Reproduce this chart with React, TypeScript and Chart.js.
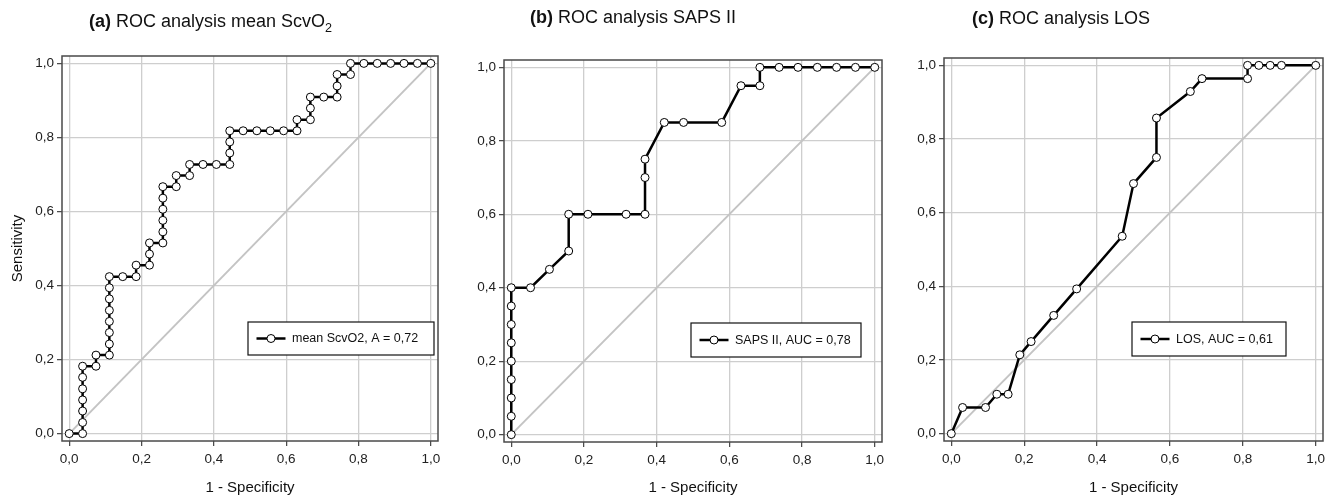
import React, { useEffect, useRef } from 'react';
import { Chart, registerables } from 'chart.js';

Chart.register(...registerables);

// ---------- data ----------
const tickValues = [0, 0.2, 0.4, 0.6, 0.8, 1.0];
const tickLabels = ['0,0', '0,2', '0,4', '0,6', '0,8', '1,0'];
const diagX = [0, 1];
const diagY = [0, 1];

const xAxisTitle = '1 - Specificity';
const yAxisTitle = 'Sensitivity';

// (a) mean ScvO2
const aFpr = [0, 0.037, 0.037, 0.037, 0.037, 0.037, 0.037, 0.037, 0.074, 0.074, 0.111, 0.111, 0.111, 0.111, 0.111, 0.111, 0.111, 0.111, 0.148, 0.185, 0.185, 0.222, 0.222, 0.222, 0.259, 0.259, 0.259, 0.259, 0.259, 0.259, 0.296, 0.296, 0.333, 0.333, 0.370, 0.407, 0.444, 0.444, 0.444, 0.444, 0.481, 0.519, 0.556, 0.593, 0.630, 0.630, 0.667, 0.667, 0.667, 0.704, 0.741, 0.741, 0.741, 0.778, 0.778, 0.815, 0.852, 0.889, 0.926, 0.963, 1.0];
const aTpr = [0, 0, 0.030, 0.061, 0.091, 0.121, 0.152, 0.182, 0.182, 0.212, 0.212, 0.242, 0.273, 0.303, 0.333, 0.364, 0.394, 0.424, 0.424, 0.424, 0.455, 0.455, 0.485, 0.515, 0.515, 0.545, 0.576, 0.606, 0.636, 0.667, 0.667, 0.697, 0.697, 0.727, 0.727, 0.727, 0.727, 0.758, 0.788, 0.818, 0.818, 0.818, 0.818, 0.818, 0.818, 0.848, 0.848, 0.879, 0.909, 0.909, 0.909, 0.939, 0.970, 0.970, 1.0, 1.0, 1.0, 1.0, 1.0, 1.0, 1.0];

// (b) SAPS II
const bFpr = [0, 0, 0, 0, 0, 0, 0, 0, 0, 0.053, 0.105, 0.158, 0.158, 0.211, 0.316, 0.368, 0.368, 0.368, 0.421, 0.474, 0.579, 0.632, 0.684, 0.684, 0.737, 0.789, 0.842, 0.895, 0.947, 1.0];
const bTpr = [0, 0.05, 0.10, 0.15, 0.20, 0.25, 0.30, 0.35, 0.40, 0.40, 0.45, 0.50, 0.60, 0.60, 0.60, 0.60, 0.70, 0.75, 0.85, 0.85, 0.85, 0.95, 0.95, 1.0, 1.0, 1.0, 1.0, 1.0, 1.0, 1.0];

// (c) LOS
const cFpr = [0, 0.031, 0.094, 0.125, 0.156, 0.188, 0.219, 0.281, 0.344, 0.469, 0.500, 0.563, 0.563, 0.656, 0.688, 0.813, 0.813, 0.844, 0.875, 0.906, 1.0];
const cTpr = [0, 0.071, 0.071, 0.107, 0.107, 0.214, 0.250, 0.321, 0.393, 0.536, 0.679, 0.750, 0.857, 0.929, 0.964, 0.964, 1.0, 1.0, 1.0, 1.0, 1.0];

const legendA = 'mean ScvO2, A = 0,72';
const legendB = 'SAPS II, AUC = 0,78';
const legendC = 'LOS, AUC = 0,61';

// ---------- styles ----------
const FONT = '"Liberation Sans", Arial, Helvetica, sans-serif';
const PAGE_H = 500;

const framePlugin = {
  id: 'frame',
  beforeDatasetsDraw(chart: any) {
    const { ctx, chartArea } = chart;
    const { left, top, right, bottom } = chartArea;
    ctx.save();
    ctx.strokeStyle = '#4a4a4a';
    ctx.lineWidth = 1.5;
    ctx.strokeRect(left, top, right - left, bottom - top);
    ctx.restore();
  },
};

const rocLegendPlugin = {
  id: 'rocLegend',
  afterDatasetsDraw(chart: any, _args: any, opts: any) {
    const { ctx, chartArea } = chart;
    const ds = chart.data.datasets[0];
    const x = chartArea.left + opts.dx;
    const y = chartArea.top + opts.dy;
    ctx.save();
    ctx.fillStyle = '#fff';
    ctx.fillRect(x, y, opts.w, opts.h);
    ctx.strokeStyle = '#111';
    ctx.lineWidth = 1.2;
    ctx.strokeRect(x, y, opts.w, opts.h);
    const cy = y + opts.h / 2;
    const lx0 = x + 8.5;
    const lx1 = lx0 + 29;
    ctx.strokeStyle = '#000';
    ctx.lineWidth = 2.5;
    ctx.beginPath();
    ctx.moveTo(lx0, cy);
    ctx.lineTo(lx1, cy);
    ctx.stroke();
    ctx.beginPath();
    ctx.arc((lx0 + lx1) / 2, cy, 4, 0, Math.PI * 2);
    ctx.fillStyle = '#fff';
    ctx.fill();
    ctx.lineWidth = 1;
    ctx.stroke();
    ctx.fillStyle = '#111';
    ctx.font = `12.5px ${FONT}`;
    ctx.textBaseline = 'middle';
    ctx.textAlign = 'left';
    ctx.fillText(ds.label, x + 44, cy + 0.5);
    ctx.restore();
  },
};

type Area = { left: number; top: number; right: number; bottom: number };
type PanelProps = {
  fpr: number[];
  tpr: number[];
  label: string;
  showYTitle: boolean;
  canvasLeft: number;
  canvasWidth: number;
  area: Area;
  legendBox: { dx: number; dy: number; w: number; h: number };
};

function RocPanel(p: PanelProps) {
  const ref = useRef<HTMLCanvasElement | null>(null);
  useEffect(() => {
    if (!ref.current) return;
    const yWidth = p.area.left - p.canvasLeft;
    const xHeight = PAGE_H - p.area.bottom;
    const padRight = p.canvasLeft + p.canvasWidth - p.area.right;
    const tickFont = { family: FONT, size: 13.5 };
    const titleFont = { family: FONT, size: 15 };
    const gridCfg = {
      color: '#cecece',
      lineWidth: 1.3,
      tickLength: 5,
      tickColor: '#444',
      tickWidth: 1.2,
    };
    const setTicks = (s: any) => {
      s.ticks = tickValues.map((v) => ({ value: v }));
    };
    const chart = new Chart(ref.current, {
      type: 'scatter',
      data: {
        datasets: [
          {
            label: p.label,
            data: p.fpr.map((x, i) => ({ x, y: p.tpr[i] })),
            showLine: true,
            borderColor: '#000',
            borderWidth: 2.5,
            pointRadius: 4,
            pointBackgroundColor: '#fff',
            pointBorderColor: '#000',
            pointBorderWidth: 1,
            tension: 0,
          } as any,
          {
            label: 'reference',
            data: diagX.map((x, i) => ({ x, y: diagY[i] })),
            showLine: true,
            borderColor: '#c4c4c4',
            borderWidth: 2,
            pointRadius: 0,
          } as any,
        ],
      },
      options: {
        responsive: false,
        animation: false,
        layout: { padding: { left: 0, top: p.area.top, right: padRight, bottom: 0 } },
        plugins: {
          legend: { display: false },
          tooltip: { enabled: false },
          title: { display: false },
          rocLegend: p.legendBox,
        } as any,
        scales: {
          x: {
            type: 'linear',
            min: -0.02,
            max: 1.02,
            afterBuildTicks: setTicks,
            afterFit: (s: any) => {
              s.height = xHeight;
            },
            ticks: {
              autoSkip: false,
              maxRotation: 0,
              padding: 5,
              color: '#222',
              font: tickFont,
              callback: (_v: any, i: number) => tickLabels[i],
            },
            grid: gridCfg,
            border: { display: false },
            title: {
              display: true,
              text: xAxisTitle,
              color: '#111',
              font: titleFont,
              padding: { top: 0, bottom: 3 },
            },
          },
          y: {
            type: 'linear',
            min: -0.02,
            max: 1.02,
            afterBuildTicks: setTicks,
            afterFit: (s: any) => {
              s.width = yWidth;
            },
            ticks: {
              autoSkip: false,
              padding: 3,
              color: '#222',
              font: tickFont,
              callback: (_v: any, i: number) => tickLabels[i],
            },
            grid: gridCfg,
            border: { display: false },
            title: {
              display: p.showYTitle,
              text: yAxisTitle,
              color: '#111',
              font: titleFont,
              padding: { top: 9, bottom: 0 },
            },
          },
        },
      } as any,
      plugins: [framePlugin, rocLegendPlugin],
    });
    return () => chart.destroy();
  }, []);
  return (
    <canvas
      ref={ref}
      width={p.canvasWidth}
      height={PAGE_H}
      style={{
        position: 'absolute',
        left: p.canvasLeft,
        top: 0,
        width: p.canvasWidth,
        height: PAGE_H,
      }}
    />
  );
}

const titleStyle = (left: number, top: number): React.CSSProperties => ({
  position: 'absolute',
  left,
  top,
  fontFamily: FONT,
  fontSize: 18,
  lineHeight: '20px',
  color: '#111',
  whiteSpace: 'nowrap',
});

export default function App() {
  return (
    <div
      style={{
        position: 'absolute',
        left: 0,
        top: 0,
        width: 1338,
        height: 500,
        background: '#fff',
        overflow: 'hidden',
      }}
    >
      <RocPanel
        fpr={aFpr}
        tpr={aTpr}
        label={legendA}
        showYTitle={true}
        canvasLeft={0}
        canvasWidth={470}
        area={{ left: 62, top: 56, right: 438, bottom: 441 }}
        legendBox={{ dx: 186, dy: 266, w: 186, h: 33 }}
      />
      <RocPanel
        fpr={bFpr}
        tpr={bTpr}
        label={legendB}
        showYTitle={false}
        canvasLeft={446}
        canvasWidth={470}
        area={{ left: 504, top: 60, right: 882, bottom: 442 }}
        legendBox={{ dx: 187, dy: 263, w: 170, h: 34 }}
      />
      <RocPanel
        fpr={cFpr}
        tpr={cTpr}
        label={legendC}
        showYTitle={false}
        canvasLeft={892}
        canvasWidth={446}
        area={{ left: 944, top: 58, right: 1323, bottom: 441 }}
        legendBox={{ dx: 188, dy: 264, w: 154, h: 34 }}
      />
      <div style={titleStyle(89, 11)}>
        <b>(a)</b> ROC analysis mean ScvO<sub style={{ fontSize: '70%', lineHeight: 0 }}>2</sub>
      </div>
      <div style={titleStyle(530, 7)}>
        <b>(b)</b> ROC analysis SAPS II
      </div>
      <div style={titleStyle(972, 8)}>
        <b>(c)</b> ROC analysis LOS
      </div>
    </div>
  );
}
